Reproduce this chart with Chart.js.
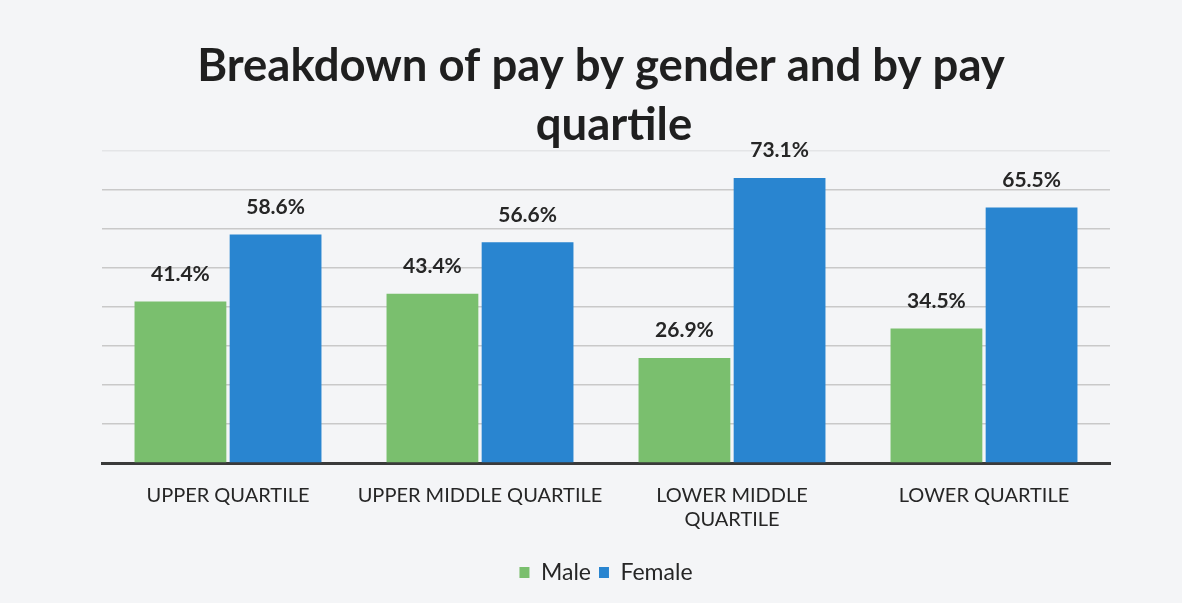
<!DOCTYPE html>
<html>
<head>
<meta charset="utf-8">
<script src="https://cdn.jsdelivr.net/npm/chart.js@4.4.1/dist/chart.umd.min.js"></script>
<style>
  html, body { margin: 0; padding: 0; background: #f3f4f6; }
  canvas { display: block; }
</style>
</head>
<body>
<canvas id="payChart" width="1182" height="603"></canvas>
<script>
const categories = ["UPPER QUARTILE", "UPPER MIDDLE QUARTILE", ["LOWER MIDDLE", "QUARTILE"], "LOWER QUARTILE"];
const maleValues = [41.4, 43.4, 26.9, 34.5];
const femaleValues = [58.6, 56.6, 73.1, 65.5];
const titleLines = ["Breakdown of pay by gender and by pay", "quartile"];

const GREEN = "rgb(122, 191, 110)";
const BLUE = "rgb(41, 133, 208)";

// page background, title and value labels are drawn by hand
const backgroundPlugin = {
    id: "bg",
    beforeDraw(chart) {
        const ctx = chart.ctx;
        ctx.save();
        ctx.fillStyle = "#f4f5f7";
        ctx.fillRect(0, 0, chart.width, chart.height);
        ctx.restore();
    }
};

const titlePlugin = {
    id: "twoLineTitle",
    afterDraw(chart) {
        const ctx = chart.ctx;
        ctx.save();
        ctx.fillStyle = "#1f1f1f";
        ctx.font = "bold 45.5px Lato";
        ctx.textAlign = "center";
        ctx.textBaseline = "middle";
        ctx.fillText(titleLines[0], 601, 66);
        ctx.fillText(titleLines[1], 614, 125);
        ctx.restore();
    }
};

const valueLabelPlugin = {
    id: "valueLabels",
    afterDatasetsDraw(chart) {
        const ctx = chart.ctx;
        ctx.save();
        ctx.fillStyle = "#262626";
        ctx.font = "bold 21px Lato";
        ctx.textAlign = "center";
        ctx.textBaseline = "bottom";
        chart.data.datasets.forEach((ds, i) => {
            chart.getDatasetMeta(i).data.forEach((bar, j) => {
                ctx.fillText(ds.data[j].toFixed(1) + "%", bar.x, bar.y - 17);
            });
        });
        ctx.restore();
    }
};

new Chart(document.getElementById("payChart"), {
    type: "bar",
    data: {
        labels: categories,
        datasets: [
            {
                label: "Male",
                data: maleValues,
                backgroundColor: GREEN,
                categoryPercentage: 0.755,
                barPercentage: 0.965
            },
            {
                label: "Female",
                data: femaleValues,
                backgroundColor: BLUE,
                categoryPercentage: 0.755,
                barPercentage: 0.965
            }
        ]
    },
    options: {
        responsive: false,
        animation: false,
        layout: {
            padding: { left: 102, right: 72, top: 151, bottom: 9 }
        },
        plugins: {
            title: { display: false },
            tooltip: { enabled: false },
            legend: {
                position: "bottom",
                labels: {
                    color: "#262626",
                    font: { family: "Lato", size: 23 },
                    boxWidth: 10,
                    boxHeight: 11,
                    padding: 8
                }
            }
        },
        scales: {
            x: {
                grid: { display: false, drawTicks: false },
                border: { display: true, color: "#3a3a3a", width: 3 },
                ticks: {
                    color: "#262626",
                    font: { family: "Lato", size: 20 },
                    padding: 21,
                    maxRotation: 0
                }
            },
            y: {
                min: 0,
                max: 80,
                ticks: { display: false, stepSize: 10 },
                grid: {
                    color: ctx => ctx.tick && ctx.tick.value === 80 ? "#e4e5e7" : "#c9c9c9",
                    lineWidth: 1.5,
                    drawTicks: false
                },
                border: { display: false }
            }
        }
    },
    plugins: [backgroundPlugin, titlePlugin, valueLabelPlugin]
});
</script>
</body>
</html>
